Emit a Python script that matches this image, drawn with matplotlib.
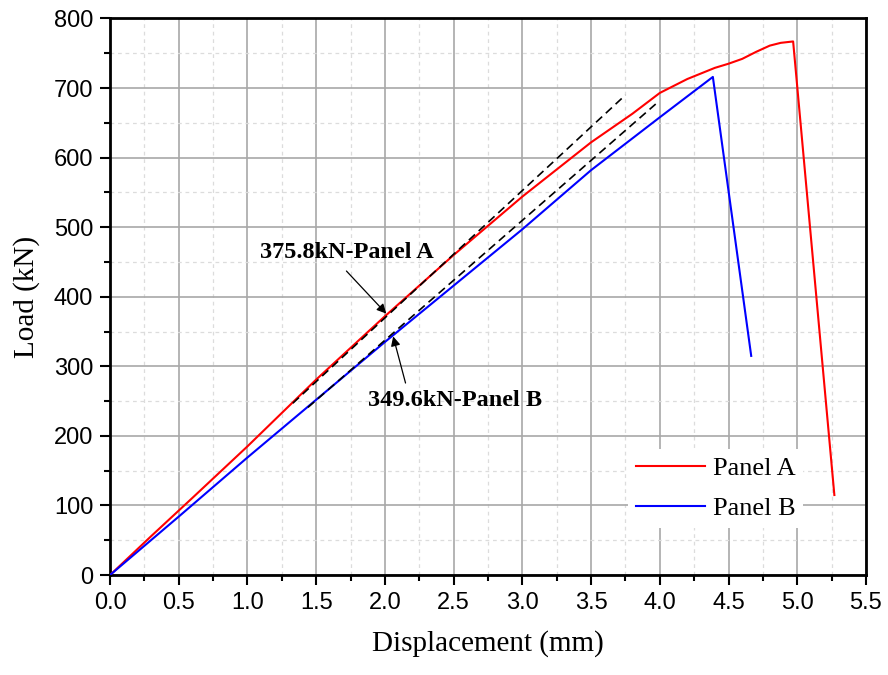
import matplotlib.pyplot as plt
from matplotlib.ticker import MultipleLocator

# load-displacement curves
disp_a = [0, 0.3, 0.6, 1.0, 1.5, 2.0, 2.5, 3.0, 3.5, 3.8, 4.0, 4.2, 4.4, 4.5, 4.6, 4.7, 4.8, 4.88, 4.97, 5.27]
load_a = [0, 56, 111, 185, 281, 372, 460, 544, 622, 663, 693, 713, 729, 735, 742, 752, 761, 765, 767, 115]

disp_b = [0, 0.5, 1.0, 1.5, 2.0, 2.5, 3.0, 3.5, 4.0, 4.386, 4.665]
load_b = [0, 84, 169, 252, 335, 416, 497, 582, 658, 716, 315]

# elastic stiffness lines
tan_a_x = [1.33, 3.75]
tan_a_y = [247, 690]
tan_b_x = [1.44, 3.97]
tan_b_y = [241, 677]

serif = ['Liberation Serif', 'DejaVu Serif']
sans = ['Liberation Sans', 'DejaVu Sans']

fig = plt.figure(figsize=(8.88, 6.75), dpi=100)
ax = fig.add_axes([0.1239, 0.1481, 0.8513, 0.8245])

ax.plot(disp_a, load_a, color='red', lw=1.5, label='Panel A', zorder=3)
ax.plot(disp_b, load_b, color='blue', lw=1.5, label='Panel B', zorder=3)
ax.plot(tan_a_x, tan_a_y, color='black', ls=(0, (5, 3)), lw=1.2, zorder=4)
ax.plot(tan_b_x, tan_b_y, color='black', ls=(0, (5, 3)), lw=1.2, zorder=4)

ax.set_xlim(0, 5.5)
ax.set_ylim(0, 800)
ax.xaxis.set_major_locator(MultipleLocator(0.5))
ax.xaxis.set_minor_locator(MultipleLocator(0.25))
ax.yaxis.set_major_locator(MultipleLocator(100))
ax.yaxis.set_minor_locator(MultipleLocator(50))
ax.xaxis.set_major_formatter(lambda v, p: f'{v:.1f}')

ax.grid(True, which='major', color='#a8a8a8', lw=1.2, ls='-')
ax.grid(True, which='minor', color='#dcdcdc', lw=0.9, ls=(0, (3, 3)))
ax.set_axisbelow(True)

ax.tick_params(which='major', direction='out', length=7, width=1.5, labelsize=17, pad=5)
ax.tick_params(which='minor', direction='out', length=4, width=1.5)
for lab in ax.get_xticklabels() + ax.get_yticklabels():
    lab.set_family(sans)
for s in ax.spines.values():
    s.set_linewidth(2.0)

ax.set_xlabel('Displacement (mm)', fontsize=21, family=serif, labelpad=12)
ax.set_ylabel('Load (kN)', fontsize=21, family=serif, labelpad=10)

# peak-stiffness annotations
ax.text(1.72, 463, '375.8kN-Panel A', fontsize=17.5, fontweight='bold', family=serif,
        ha='center', va='center')
ax.annotate('', xy=(2.01, 375.8), xytext=(1.72, 437),
            arrowprops=dict(arrowstyle='-|>', color='black', lw=0.9,
                            mutation_scale=14, shrinkA=0, shrinkB=0))
ax.text(2.51, 251, '349.6kN-Panel B', fontsize=17.5, fontweight='bold', family=serif,
        ha='center', va='center')
ax.annotate('', xy=(2.06, 343), xytext=(2.15, 276),
            arrowprops=dict(arrowstyle='-|>', color='black', lw=0.9,
                            mutation_scale=14, shrinkA=0, shrinkB=0))

leg = ax.legend(loc='upper left', bbox_to_anchor=(0.668, 0.25), frameon=True,
                prop={'family': serif, 'size': 19}, handlelength=2.6,
                handletextpad=0.3, labelspacing=0.6, borderpad=0.3)
leg.get_frame().set_edgecolor('none')
leg.get_frame().set_facecolor('white')
leg.get_frame().set_alpha(1)

fig.savefig('out.png', dpi=100)
